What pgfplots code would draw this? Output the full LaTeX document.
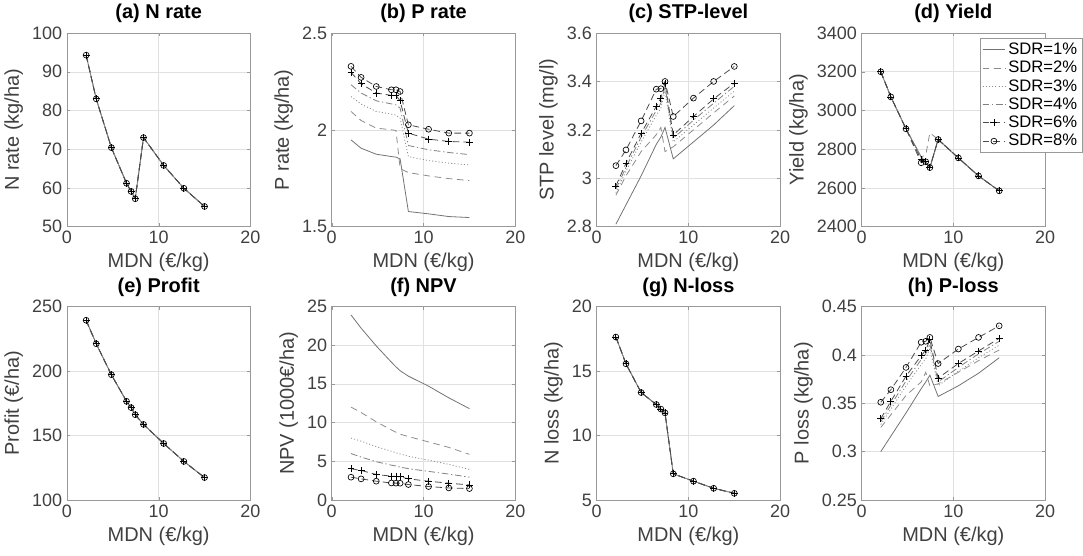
\documentclass[border=0pt]{standalone}
\usepackage{fontspec}
\setmainfont{Liberation Sans}
\usepackage{pgfplots}
\usepackage{pgfplotstable}
\pgfplotsset{compat=1.18}
\usepgfplotslibrary{groupplots}
\usetikzlibrary{calc}

% MDN values (x) shared by all panels
\pgfplotstableread{
x     y
2.1   94.3
3.2   83.0
4.85  70.4
6.5   61.2
7.0   59.1
7.45  57.2
8.35  73.0
10.55 65.8
12.75 59.9
15.0  55.2
}\nrate

\pgfplotstableread{
x     s1    s2    s3    s4    s6    s8
2.1   1.948 2.095 2.172 2.233 2.297 2.328
3.2   1.905 2.048 2.133 2.190 2.238 2.271
4.85  1.874 2.009 2.095 2.150 2.190 2.224
6.5   1.862 2.000 2.081 2.134 2.178 2.207
7.0   1.859 1.997 2.076 2.129 2.178 2.207
7.45  1.850 1.800 2.060 2.112 2.150 2.198
8.35  1.578 1.779 1.862 1.919 1.983 2.026
10.55 1.566 1.762 1.841 1.897 1.952 2.003
12.75 1.552 1.748 1.828 1.883 1.940 1.983
15.0  1.547 1.738 1.819 1.872 1.936 1.983
}\prate

\pgfplotstableread{
x     s1    s2    s3    s4    s6    s8
2.1   2.81  2.93  2.94  2.955 2.968 3.052
3.2   2.89  3.01  3.03  3.045 3.062 3.117
4.85  3.01  3.11  3.15  3.17  3.186 3.237
6.5   3.14  3.18  3.26  3.28  3.297 3.368
7.0   3.17  3.21  3.29  3.31  3.331 3.370
7.45  3.21  3.11  3.36  3.38  3.393 3.400
8.35  3.08  3.13  3.15  3.165 3.179 3.255
10.55 3.15  3.20  3.22  3.24  3.255 3.331
12.75 3.22  3.27  3.29  3.31  3.328 3.400
15.0  3.30  3.34  3.36  3.38  3.393 3.462
}\stp

\pgfplotstableread{
x     s1   s2   s3   s4   s6   s8
2.1   3200 3200 3200 3200 3200 3200
3.2   3070 3070 3070 3070 3070 3070
4.85  2905 2905 2905 2905 2905 2905
6.5   2760 2760 2760 2760 2745 2730
7.0   2735 2770 2735 2735 2735 2735
7.45  2705 2885 2705 2705 2705 2705
8.35  2850 2850 2850 2850 2850 2850
10.55 2755 2755 2755 2755 2755 2755
12.75 2662 2662 2662 2662 2662 2662
15.0  2585 2585 2585 2585 2585 2585
}\yield

\pgfplotstableread{
x     y
2.1   239.3
3.2   221.1
4.85  197.1
6.5   176.5
7.0   171.6
7.45  166.1
8.35  158.6
10.55 143.8
12.75 129.9
15.0  117.4
}\profit

\pgfplotstableread{
x     s1   s2   s3   s4   s6   s8
2.1   23.9 12.0 8.0  6.0  4.04 2.95
3.2   22.2 11.3 7.6  5.55 3.82 2.73
4.85  19.9 10.1 6.9  4.95 3.30 2.43
6.5   17.8 9.05 6.3  4.5  3.08 2.20
7.0   17.2 8.75 6.1  4.4  3.04 2.18
7.45  16.7 8.5  5.95 4.25 3.00 2.17
8.35  16.0 8.2  5.65 4.05 2.73 2.00
10.55 14.7 7.5  5.15 3.7  2.43 1.74
12.75 13.2 6.8  4.6  3.35 2.17 1.56
15.0  11.8 5.9  3.95 2.95 1.95 1.48
}\npv

\pgfplotstableread{
x     y
2.1   17.63
3.2   15.55
4.85  13.33
6.5   12.40
7.0   12.05
7.45  11.75
8.35  7.03
10.55 6.46
12.75 5.91
15.0  5.52
}\nloss

\pgfplotstableread{
x     s1    s2    s3    s4    s6     s8
2.1   0.300 0.325 0.328 0.331 0.334  0.351
3.2   0.316 0.338 0.344 0.348 0.352  0.364
4.85  0.340 0.358 0.368 0.373 0.378  0.387
6.5   0.365 0.372 0.390 0.395 0.399  0.413
7.0   0.372 0.382 0.396 0.401 0.405  0.414
7.45  0.379 0.368 0.407 0.411 0.4155 0.418
8.35  0.357 0.370 0.368 0.372 0.376  0.391
10.55 0.368 0.382 0.383 0.387 0.391  0.406
12.75 0.381 0.394 0.397 0.401 0.404  0.418
15.0  0.397 0.405 0.410 0.414 0.417  0.430
}\ploss

\pgfplotscreateplotcyclelist{sdr}{%
black!55,solid,line width=0.6pt\\%
black!45,dash pattern=on 5pt off 3.5pt,line width=0.6pt\\%
black!45,dash pattern=on 0.8pt off 1.6pt,line width=0.6pt\\%
black!50,dash pattern=on 5pt off 2pt on 1pt off 2pt,line width=0.6pt\\%
black!70,dash pattern=on 5pt off 3pt,line width=0.6pt,mark=+,mark size=2.6pt,mark options={solid,black,line width=0.6pt}\\%
black!70,dash pattern=on 5pt off 3pt,line width=0.6pt,mark=o,mark size=2.2pt,mark options={solid,black,line width=0.5pt}\\%
}

\begin{document}
\begin{tikzpicture}
\begin{groupplot}[
  group style={group size=4 by 2, horizontal sep=61.1pt, vertical sep=60pt},
  scale only axis, width=138pt, height=145.5pt,
  xmin=0, xmax=20, xtick={0,10,20},
  xlabel={MDN (€/kg)},
  grid=major, grid style={black!12, line width=0.4pt},
  axis line style={black!40}, tick style={black!40},
  tick align=inside, major tick length=2.5pt,
  cycle list name=sdr,
  tick label style={font=\fontsize{13.5}{15}\selectfont, text=black!75},
  label style={font=\fontsize{15}{17}\selectfont, text=black!75},
  title style={font=\bfseries\fontsize{15}{17}\selectfont, yshift=-2pt},
  /pgf/number format/1000 sep={},
  /pgf/number format/assume math mode=true,
]
\nextgroupplot[title={(a) N rate}, ylabel={N rate (kg/ha)}, ymin=50, ymax=100, ytick={50,60,...,100}]
\addplot table[y=y]{\nrate};
\addplot table[y=y]{\nrate};
\addplot table[y=y]{\nrate};
\addplot table[y=y]{\nrate};
\addplot table[y=y]{\nrate};
\addplot table[y=y]{\nrate};

\nextgroupplot[title={(b) P rate}, ylabel={P rate (kg/ha)}, ymin=1.5, ymax=2.5, ytick={1.5,2,2.5}]
\addplot table[y=s1]{\prate};
\addplot table[y=s2]{\prate};
\addplot table[y=s3]{\prate};
\addplot table[y=s4]{\prate};
\addplot table[y=s6]{\prate};
\addplot table[y=s8]{\prate};

\nextgroupplot[title={(c) STP-level}, ylabel={STP level (mg/l)}, ymin=2.8, ymax=3.6, ytick={2.8,3,3.2,3.4,3.6}]
\addplot table[y=s1]{\stp};
\addplot table[y=s2]{\stp};
\addplot table[y=s3]{\stp};
\addplot table[y=s4]{\stp};
\addplot table[y=s6]{\stp};
\addplot table[y=s8]{\stp};

\nextgroupplot[title={(d) Yield}, ylabel={Yield (kg/ha)}, ymin=2400, ymax=3400, ytick={2400,2600,...,3400},
  legend style={at={(0.645,0.974)}, anchor=north west, draw=black!40, fill=white,
    font=\fontsize{12.5}{13.5}\selectfont, inner sep=1.5pt, row sep=-0.5pt},
  legend cell align=left]
\addplot table[y=s1]{\yield};
\addlegendentry{SDR=1\%}
\addplot table[y=s2]{\yield};
\addlegendentry{SDR=2\%}
\addplot table[y=s3]{\yield};
\addlegendentry{SDR=3\%}
\addplot table[y=s4]{\yield};
\addlegendentry{SDR=4\%}
\addplot table[y=s6]{\yield};
\addlegendentry{SDR=6\%}
\addplot table[y=s8]{\yield};
\addlegendentry{SDR=8\%}

\nextgroupplot[title={(e) Profit}, ylabel={Profit (€/ha)}, ymin=100, ymax=250, ytick={100,150,200,250}]
\addplot table[y=y]{\profit};
\addplot table[y=y]{\profit};
\addplot table[y=y]{\profit};
\addplot table[y=y]{\profit};
\addplot table[y=y]{\profit};
\addplot table[y=y]{\profit};

\nextgroupplot[title={(f) NPV}, ylabel={NPV (1000€/ha)}, ymin=0, ymax=25, ytick={0,5,...,25}]
\addplot table[y=s1]{\npv};
\addplot table[y=s2]{\npv};
\addplot table[y=s3]{\npv};
\addplot table[y=s4]{\npv};
\addplot table[y=s6]{\npv};
\addplot table[y=s8]{\npv};

\nextgroupplot[title={(g) N-loss}, ylabel={N loss (kg/ha)}, ymin=5, ymax=20, ytick={5,10,15,20}]
\addplot table[y=y]{\nloss};
\addplot table[y=y]{\nloss};
\addplot table[y=y]{\nloss};
\addplot table[y=y]{\nloss};
\addplot table[y=y]{\nloss};
\addplot table[y=y]{\nloss};

\nextgroupplot[title={(h) P-loss}, ylabel={P loss (kg/ha)}, ymin=0.25, ymax=0.45, ytick={0.25,0.3,0.35,0.4,0.45}]
\addplot table[y=s1]{\ploss};
\addplot table[y=s2]{\ploss};
\addplot table[y=s3]{\ploss};
\addplot table[y=s4]{\ploss};
\addplot table[y=s6]{\ploss};
\addplot table[y=s8]{\ploss};
\end{groupplot}
\path ($(group c1r1.north west)+(-50.25pt,20.25pt)$) rectangle ($(group c4r2.south east)+(28.5pt,-42pt)$);
\end{tikzpicture}
\end{document}
